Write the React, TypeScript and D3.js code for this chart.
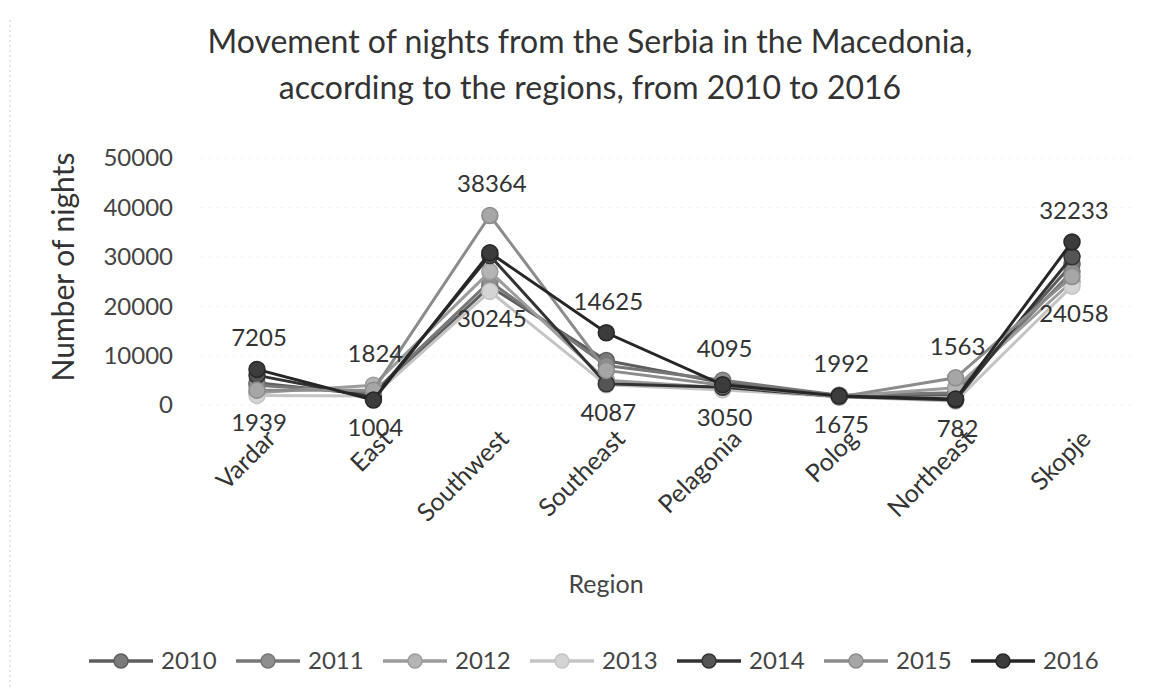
import React from 'react'
import * as d3 from 'd3'

const regions = ['Vardar', 'East', 'Southwest', 'Southeast', 'Pelagonia', 'Polog', 'Northeast', 'Skopje']
const years = ['2010', '2011', '2012', '2013', '2014', '2015', '2016']

const v2010 = [4500, 2000, 24000, 9000, 4500, 1900, 2000, 28500]
const v2011 = [4000, 2500, 25000, 8000, 5000, 1992, 2500, 27000]
const v2012 = [2500, 4000, 27000, 5000, 3500, 1700, 3500, 25000]
const v2013 = [1939, 1824, 23000, 4087, 3050, 1675, 782, 24058]
const v2014 = [6000, 1500, 30245, 4300, 3600, 1700, 1000, 30000]
const v2015 = [3000, 3000, 38364, 7000, 4000, 1600, 5500, 26000]
const v2016 = [7205, 1004, 30800, 14625, 4095, 1800, 1200, 33000]
const seriesValues = [v2010, v2011, v2012, v2013, v2014, v2015, v2016]

const topLabels = [7205, 1824, 38364, 14625, 4095, 1992, 1563, 32233]
const bottomLabels = [1939, 1004, 30245, 4087, 3050, 1675, 782, 24058]
const yTicks = [0, 10000, 20000, 30000, 40000, 50000]

const fills = ['#7a7a7a', '#8e8e8e', '#b4b4b4', '#d4d4d4', '#555555', '#a6a6a6', '#3c3c3c']
const strokes = ['#5e5e5e', '#777777', '#9c9c9c', '#c4c4c4', '#333333', '#8c8c8c', '#262626']

const font = 'Lato, "Open Sans", sans-serif'
const W = 1154
const H = 700

export default function App() {
  const x = d3.scalePoint<string>().domain(regions).range([257, 1072])
  const y = d3.scaleLinear().domain([0, 50000]).range([405, 158])

  const line = d3
    .line<number>()
    .x((_, i) => x(regions[i]) as number)
    .y(d => y(d))

  const maxAt = regions.map((_, i) => d3.max(seriesValues, s => s[i]) as number)
  const minAt = regions.map((_, i) => d3.min(seriesValues, s => s[i]) as number)

  return (
    <svg width={W} height={H} style={{ position: 'absolute', left: 0, top: 0, background: '#fff' }}>
      <line x1={10} x2={10} y1={20} y2={690} stroke="#ccc" strokeDasharray="2,3" />

      <g fontFamily={font} fill="#333" textAnchor="middle" fontSize={32}>
        <text x={590} y={53}>Movement of nights from the Serbia in the Macedonia,</text>
        <text x={590} y={99}>according to the regions, from 2010 to 2016</text>
      </g>

      {yTicks.map(t => (
        <g key={t}>
          <line x1={200} x2={1132} y1={y(t)} y2={y(t)} stroke="#f2f2f2" strokeDasharray="3,5" />
          <text x={173} y={y(t)} dy="0.35em" textAnchor="end" fontFamily={font} fontSize={24} fill="#444">
            {t}
          </text>
        </g>
      ))}

      <text
        transform="translate(74,267) rotate(-90)"
        textAnchor="middle"
        fontFamily={font}
        fontSize={30}
        fill="#333"
      >
        Number of nights
      </text>

      {regions.map(r => (
        <text
          key={r}
          transform={`translate(${(x(r) as number) + 8},428) rotate(-45)`}
          textAnchor="end"
          dy="0.7em"
          fontFamily={font}
          fontSize={25}
          fill="#333"
        >
          {r}
        </text>
      ))}

      <text x={606} y={593} textAnchor="middle" fontFamily={font} fontSize={25} fill="#444">
        Region
      </text>

      {seriesValues.map((s, si) => (
        <g key={years[si]}>
          <path d={line(s) as string} fill="none" stroke={strokes[si]} strokeWidth={3} />
          {s.map((v, i) => (
            <circle
              key={i}
              cx={x(regions[i]) as number}
              cy={y(v)}
              r={8}
              fill={fills[si]}
              stroke={strokes[si]}
              strokeWidth={1.5}
            />
          ))}
        </g>
      ))}

      <g fontFamily={font} fontSize={24} fill="#333" textAnchor="middle">
        {regions.map((r, i) => (
          <g key={r}>
            <text x={(x(r) as number) + 2} y={y(maxAt[i]) - 23}>{topLabels[i]}</text>
            <text x={(x(r) as number) + 2} y={y(minAt[i]) + 36}>{bottomLabels[i]}</text>
          </g>
        ))}
      </g>

      {years.map((yr, i) => {
        const lx = 89 + i * 147
        return (
          <g key={yr} transform={`translate(${lx},661)`}>
            <line x1={0} x2={64} y1={0} y2={0} stroke={strokes[i]} strokeWidth={3.5} />
            <circle cx={32} cy={0} r={7} fill={fills[i]} stroke={strokes[i]} strokeWidth={1.5} />
            <text x={72} y={0} dy="0.35em" fontFamily={font} fontSize={24} fill="#444">
              {yr}
            </text>
          </g>
        )
      })}
    </svg>
  )
}
